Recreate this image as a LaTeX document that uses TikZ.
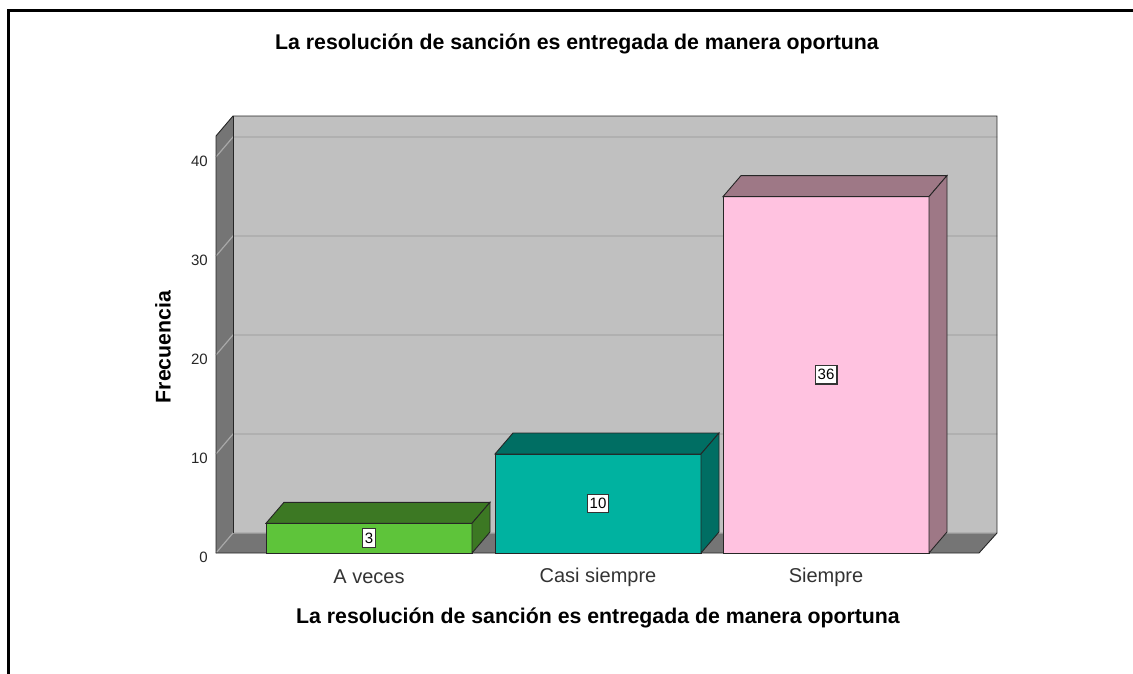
\documentclass[tikz,border=0pt]{standalone}
\usepackage{fontspec}
\setmainfont{Liberation Sans}
\usetikzlibrary{calc}
\usepackage{xcolor}

\definecolor{wallgray}{HTML}{C0C0C0}
\definecolor{sidegray}{HTML}{757575}
\definecolor{gridgray}{HTML}{A8A8A8}
\definecolor{greenfront}{HTML}{5EC43A}
\definecolor{greendark}{HTML}{3C7823}
\definecolor{tealfront}{HTML}{00B2A0}
\definecolor{tealdark}{HTML}{006E63}
\definecolor{pinkfront}{HTML}{FFC2E0}
\definecolor{pinkdark}{HTML}{9E7886}
\definecolor{labelgray}{HTML}{333333}

\tikzset{
  ticklabel/.style={anchor=east, inner sep=0, font=\fontsize{15}{17}\selectfont, text=black!85},
  vallabel/.style={draw=black!80, fill=white, line width=1.3pt, inner xsep=2.5pt, inner ysep=4pt, font=\fontsize{15}{17}\selectfont},
  catlabel/.style={inner sep=0, font=\fontsize{20}{24}\selectfont, text=labelgray},
  titlelabel/.style={inner sep=0, font=\bfseries\fontsize{21.3}{24}\selectfont}
}

\begin{document}
\begin{tikzpicture}[x=1pt,y=-1pt]
\useasboundingbox (0,0) rectangle (1133,674);
% frame
\draw[line width=2.6pt] (8.5,674) -- (8.5,10.7) -- (1133,10.7);
% walls and floor
\fill[sidegray] (216,553) -- (216,136) -- (233,116) -- (233,533) -- cycle;
\fill[wallgray] (233,116) rectangle (997,533);
\fill[sidegray] (216,553) -- (233,533) -- (997,533) -- (979,553) -- cycle;
\foreach \v in {0,10,20,30,40} {
 \draw[gridgray, line width=1.2pt] (216,{553-9.9*\v}) -- (233,{533-9.9*\v}) -- (997,{533-9.9*\v});
 \node[ticklabel] (tick\v) at (208,{557-9.9*\v}) {\v};
}
\draw[black!85, line width=.9pt] (216,553) -- (216,136) -- (233,116) -- (997,116) -- (997,533) -- (979,553) -- cycle;
\draw[black!85, line width=.9pt] (233,116) -- (233,533);
% bars
\foreach \x/\v/\fc/\dc/\lab/\n in {266/3/greenfront/greendark/A veces/1,495/10/tealfront/tealdark/Casi siempre/2,723/36/pinkfront/pinkdark/Siempre/3} {
 \draw[black!85, line width=.9pt, fill=\fc] (\x,553) rectangle ({\x+206},{553-9.9*\v});
 \draw[black!85, line width=.9pt, fill=\dc] (\x,{553-9.9*\v}) -- ({\x+18},{532-9.9*\v}) -- ({\x+224},{532-9.9*\v}) -- ({\x+206},{553-9.9*\v}) -- cycle;
 \draw[black!85, line width=.9pt, fill=\dc] ({\x+206},{553-9.9*\v}) -- ({\x+224},{532-9.9*\v}) -- ({\x+224},532) -- ({\x+206},553) -- cycle;
 \node[vallabel] (val\n) at ({\x+103},{553-4.95*\v}) {\v};
 \node[catlabel] (cat\n) at ({\x+103},577) {\lab};
}
% titles
\node[titlelabel] (title) at (577,44) {La resolución de sanción es entregada de manera oportuna};
\node[titlelabel] (xtitle) at (598,618) {La resolución de sanción es entregada de manera oportuna};
\node[titlelabel, rotate=90] (ytitle) at (163,347) {Frecuencia};
\end{tikzpicture}
\end{document}
